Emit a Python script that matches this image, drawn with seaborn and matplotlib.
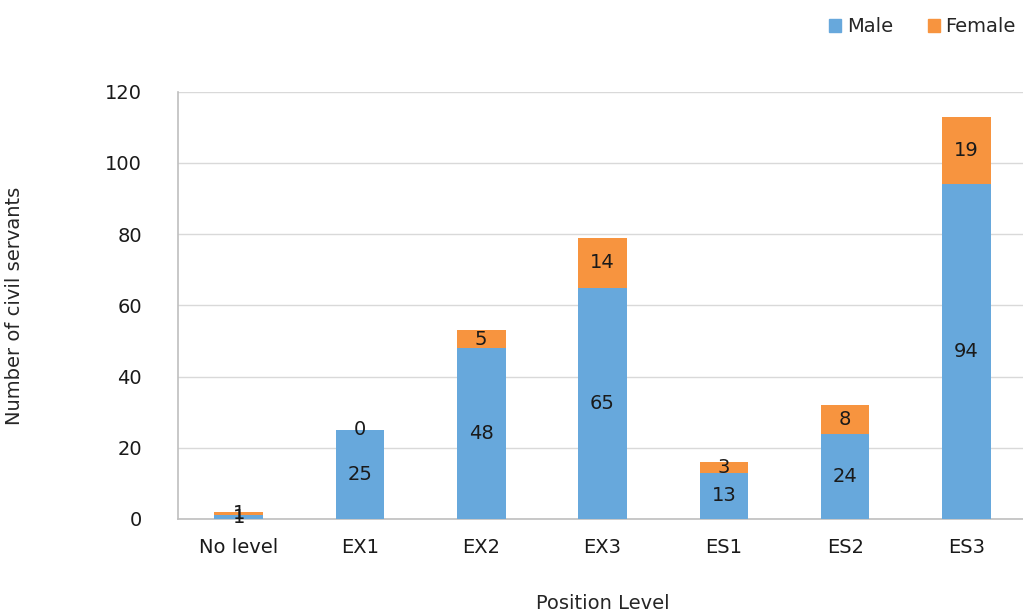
import matplotlib
matplotlib.use("Agg")
import matplotlib.pyplot as plt
import seaborn as sns
import pandas as pd
from matplotlib.patches import Patch

LEVELS = ["No level", "EX1", "EX2", "EX3", "ES1", "ES2", "ES3"]
MALE = [1, 25, 48, 65, 13, 24, 94]
FEMALE = [1, 0, 5, 14, 3, 8, 19]

MALE_COLOR = "#67A8DC"
FEMALE_COLOR = "#F7943F"

sns.set_style("white")
plt.rcParams["font.family"] = ["DejaVu Sans"]

df = pd.DataFrame({"level": LEVELS, "male": MALE, "female": FEMALE})

fig = plt.figure(figsize=(10.23, 6.12), dpi=100)
ax = fig.add_axes([0.174, 0.152, 0.83, 0.698])

sns.barplot(df, x="level", y="male", color=MALE_COLOR, width=0.4,
            saturation=1, linewidth=0, ax=ax, zorder=3)
sns.barplot(df, x="level", y="female", color=FEMALE_COLOR, width=0.4,
            saturation=1, linewidth=0, bottom=df["male"], ax=ax, zorder=3)

for cont in ax.containers:
    ax.bar_label(cont, label_type="center", fontsize=14, color="#1a1a1a")

ax.set_ylim(0, 120)
ax.set_yticks(range(0, 121, 20))
ax.set_xlim(-0.5, 6.5)
ax.yaxis.grid(True, color="#d9d9d9", linewidth=1, zorder=0)
for s in ["top", "right"]:
    ax.spines[s].set_visible(False)
for s in ["left", "bottom"]:
    ax.spines[s].set_color("#bfbfbf")
    ax.spines[s].set_linewidth(1.2)
ax.tick_params(axis="both", labelsize=14, colors="#1a1a1a", length=0)
ax.tick_params(axis="y", pad=26)
ax.tick_params(axis="x", pad=14)
ax.set_xlabel("Position Level", fontsize=14, labelpad=26)
ax.set_ylabel("Number of civil servants", fontsize=14, labelpad=58)

handles = [Patch(color=MALE_COLOR, label="Male"), Patch(color=FEMALE_COLOR, label="Female")]
fig.legend(handles=handles, loc="upper right", bbox_to_anchor=(1.01, 1.0), ncol=2,
           frameon=False, fontsize=14, handlelength=0.6, handleheight=0.6,
           handletextpad=0.3, columnspacing=1.8)

fig.savefig("out.png", dpi=100)
